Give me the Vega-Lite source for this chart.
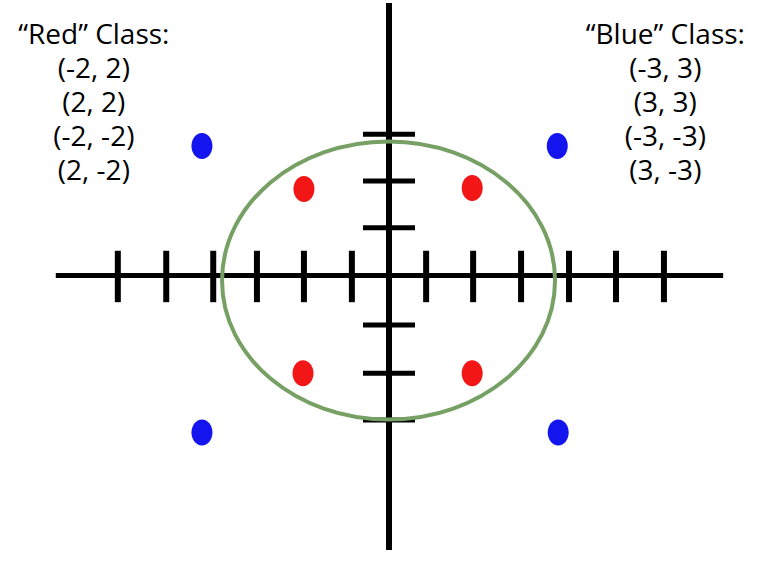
{
  "$schema": "https://vega.github.io/schema/vega-lite/v6.json",
  "width": 764,
  "height": 562,
  "padding": 0,
  "autosize": {"type": "fit", "contains": "padding"},
  "background": "white",
  "config": {"view": {"stroke": null}},
  "datasets": {
    "points": [
      {"cls": "Red", "label": "(-2, 2)", "px": -1.81, "py": 1.85},
      {"cls": "Red", "label": "(2, 2)", "px": 1.77, "py": 1.87},
      {"cls": "Red", "label": "(-2, -2)", "px": -1.83, "py": -2.09},
      {"cls": "Red", "label": "(2, -2)", "px": 1.77, "py": -2.09},
      {"cls": "Blue", "label": "(-3, 3)", "px": -3.98, "py": 2.77},
      {"cls": "Blue", "label": "(3, 3)", "px": 3.58, "py": 2.77},
      {"cls": "Blue", "label": "(-3, -3)", "px": -3.98, "py": -3.36},
      {"cls": "Blue", "label": "(3, -3)", "px": 3.60, "py": -3.36}
    ],
    "ticks": [
      {"axis": "x", "pos": -5.77}, {"axis": "x", "pos": -4.74}, {"axis": "x", "pos": -3.74},
      {"axis": "x", "pos": -2.81}, {"axis": "x", "pos": -1.81}, {"axis": "x", "pos": -0.79},
      {"axis": "x", "pos": 0.79}, {"axis": "x", "pos": 1.79}, {"axis": "x", "pos": 2.81},
      {"axis": "x", "pos": 3.83}, {"axis": "x", "pos": 4.83}, {"axis": "x", "pos": 5.85},
      {"axis": "y", "pos": 3.02}, {"axis": "y", "pos": 2.02}, {"axis": "y", "pos": 1.02},
      {"axis": "y", "pos": -1.06}, {"axis": "y", "pos": -2.09}, {"axis": "y", "pos": -3.09}
    ]
  },
  "layer": [
    {
      "data": {"values": [{}]},
      "mark": {"type": "rule", "color": "black", "strokeWidth": 5, "strokeCap": "butt"},
      "encoding": {
        "x": {"datum": -7.09, "type": "quantitative", "scale": {"domain": [-8.277, 7.979], "nice": false, "zero": false}, "axis": null},
        "x2": {"datum": 7.11},
        "y": {"datum": 0, "type": "quantitative", "scale": {"domain": [-6.128, 5.83], "nice": false, "zero": false}, "axis": null}
      }
    },
    {
      "data": {"values": [{}]},
      "mark": {"type": "rule", "color": "black", "strokeWidth": 6, "strokeCap": "butt"},
      "encoding": {
        "x": {"datum": 0, "type": "quantitative"},
        "y": {"datum": 5.83, "type": "quantitative"},
        "y2": {"datum": -5.87}
      }
    },
    {
      "data": {"name": "ticks"},
      "transform": [{"filter": "datum.axis === 'x'"}],
      "mark": {"type": "rule", "color": "black", "strokeWidth": 6, "strokeCap": "butt"},
      "encoding": {
        "x": {"field": "pos", "type": "quantitative"},
        "y": {"datum": 0.53, "type": "quantitative"},
        "y2": {"datum": -0.57}
      }
    },
    {
      "data": {"name": "ticks"},
      "transform": [{"filter": "datum.axis === 'y'"}],
      "mark": {"type": "rule", "color": "black", "strokeWidth": 5, "strokeCap": "butt"},
      "encoding": {
        "y": {"field": "pos", "type": "quantitative"},
        "x": {"datum": -0.553, "type": "quantitative"},
        "x2": {"datum": 0.553}
      }
    },
    {
      "data": {"values": [{}]},
      "mark": {
        "type": "point",
        "filled": false,
        "stroke": "#76a064",
        "strokeWidth": 4,
        "opacity": 1,
        "size": 110889,
        "shape": "M 1 0 C 1 0.4612 0.5523 0.835 0 0.835 C -0.5523 0.835 -1 0.4612 -1 0 C -1 -0.4612 -0.5523 -0.835 0 -0.835 C 0.5523 -0.835 1 -0.4612 1 0 Z"
      },
      "encoding": {
        "x": {"datum": -0.01, "type": "quantitative"},
        "y": {"datum": -0.106, "type": "quantitative"}
      }
    },
    {
      "data": {"name": "points"},
      "mark": {
        "type": "point",
        "filled": true,
        "opacity": 1,
        "size": 676,
        "shape": "M 0.808 0 C 0.808 0.5523 0.446 1 0 1 C -0.446 1 -0.808 0.5523 -0.808 0 C -0.808 -0.5523 -0.446 -1 0 -1 C 0.446 -1 0.808 -0.5523 0.808 0 Z"
      },
      "encoding": {
        "x": {"field": "px", "type": "quantitative"},
        "y": {"field": "py", "type": "quantitative"},
        "color": {"field": "cls", "type": "nominal", "scale": {"domain": ["Red", "Blue"], "range": ["#f21616", "#1414ee"]}, "legend": null}
      }
    },
    {
      "data": {"values": [{}]},
      "mark": {"type": "text", "font": "Open Sans", "fontSize": 28, "color": "black", "align": "center", "baseline": "alphabetic", "lineHeight": 34},
      "encoding": {
        "x": {"datum": -6.28, "type": "quantitative"},
        "y": {"datum": 4.96, "type": "quantitative"},
        "text": {"value": ["“Red” Class:", "(-2, 2)", "(2, 2)", "(-2, -2)", "(2, -2)"]}
      }
    },
    {
      "data": {"values": [{}]},
      "mark": {"type": "text", "font": "Open Sans", "fontSize": 28, "color": "black", "align": "center", "baseline": "alphabetic", "lineHeight": 34},
      "encoding": {
        "x": {"datum": 5.88, "type": "quantitative"},
        "y": {"datum": 4.96, "type": "quantitative"},
        "text": {"value": ["“Blue” Class:", "(-3, 3)", "(3, 3)", "(-3, -3)", "(3, -3)"]}
      }
    }
  ]
}
